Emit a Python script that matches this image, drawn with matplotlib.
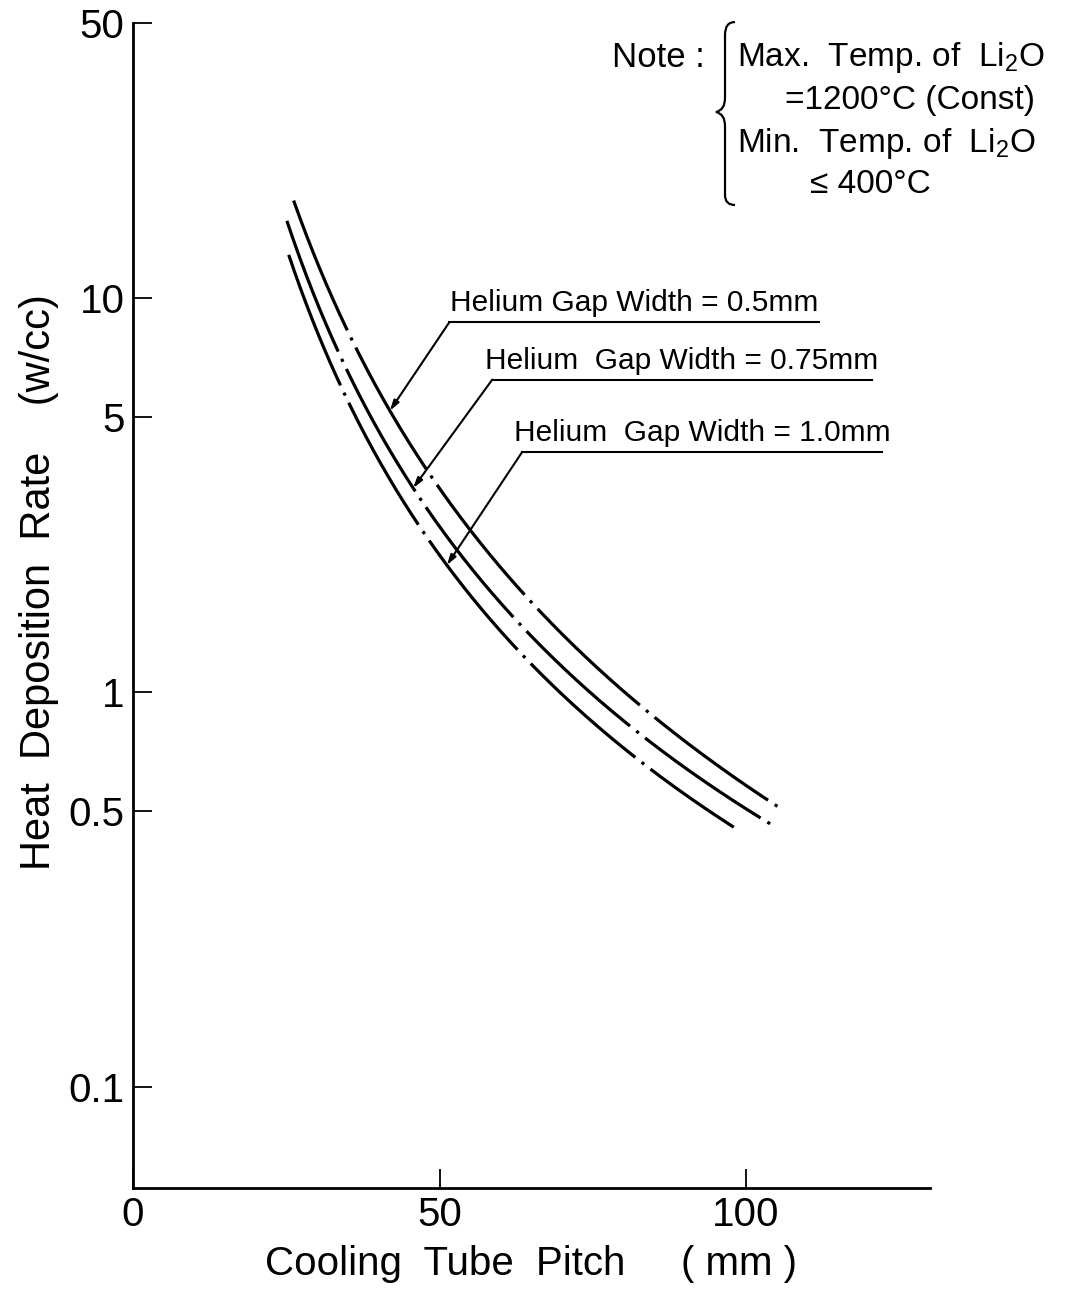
import numpy as np
import matplotlib
matplotlib.use("Agg")
import matplotlib.pyplot as plt
from matplotlib.path import Path
from matplotlib.patches import PathPatch

plt.rcParams['font.family'] = ['Liberation Sans', 'DejaVu Sans']
plt.rcParams['mathtext.fontset'] = 'custom'
plt.rcParams['mathtext.rm'] = 'Liberation Sans'
plt.rcParams['mathtext.it'] = 'Liberation Sans'

# pitch (mm) vs heat deposition rate (W/cc)
pitch_05 = [26.2, 29.3, 36.5, 44.6, 67.1, 76.1, 85.8, 92.3, 105.9]
rate_05 = [18.1, 12.9, 7.46, 4.33, 1.57, 1.15, 0.865, 0.71, 0.494]

pitch_075 = [25.1, 27.5, 32.9, 40.7, 61.4, 66.3, 76.5, 92.3, 104.1]
rate_075 = [15.5, 12.9, 7.46, 4.33, 1.57, 1.36, 0.97, 0.60, 0.458]

pitch_10 = [25.4, 27.2, 30.9, 38.1, 56.5, 66.3, 76.1, 92.3, 98.0]
rate_10 = [13.1, 10.9, 7.46, 4.33, 1.57, 1.20, 0.85, 0.51, 0.445]

labels = ["Helium Gap Width = 0.5mm",
          "Helium  Gap Width = 0.75mm",
          "Helium  Gap Width = 1.0mm"]

xticks = [0, 50, 100]
yticks = [0.1, 0.5, 1, 5, 10, 50]
yticklabels = ["0.1", "0.5", "1", "5", "10", "50"]


def smooth(px, py):
    # quadratic fit in log-log space, the read points are a bit noisy
    lx, ly = np.log10(px), np.log10(py)
    c = np.polyfit(lx, ly, 2)
    xs = np.linspace(px[0], px[-1], 300)
    ys = 10 ** np.polyval(c, np.log10(xs))
    return xs, ys, c


fig = plt.figure(figsize=(10.91, 13.05), dpi=100)
ax = fig.add_axes([0.1219, 0.0897, 0.7305, 0.8927])

dash = (0, (44, 2.5, 1, 2.5))
series = [(pitch_05, rate_05), (pitch_075, rate_075), (pitch_10, rate_10)]
fits = []
for px, py in series:
    xs, ys, c = smooth(px, py)
    fits.append(c)
    ax.plot(xs, ys, color="black", lw=2.3, linestyle=dash)

ax.set_yscale("log")
ax.set_xlim(0, 130)
ax.set_ylim(0.0553, 50)

ax.set_xticks(xticks)
ax.set_xticklabels([str(t) for t in xticks])
ax.set_yticks(yticks)
ax.set_yticklabels(yticklabels)
ax.yaxis.set_minor_locator(matplotlib.ticker.NullLocator())
ax.tick_params(direction="in", length=14, width=1.3, labelsize=29, pad=6)

for side in ["top", "right"]:
    ax.spines[side].set_visible(False)
for side in ["left", "bottom"]:
    ax.spines[side].set_linewidth(2.0)

ax.set_xlabel("Cooling  Tube  Pitch     ( mm )", fontsize=29, labelpad=8)
ax.set_ylabel("Heat  Deposition  Rate    (w/cc)", fontsize=30)
ax.yaxis.set_label_coords(-0.093, 0.52)

# leader lines to each curve
pointer_x = [41.9, 45.7, 51.2]
elbows = [(51.6, 8.7, 111.9), (58.6, 6.22, 120.5), (63.5, 4.08, 122.1)]
for c, lab, x0, (ex, ey, ux) in zip(fits, labels, pointer_x, elbows):
    y0 = 10 ** np.polyval(c, np.log10(x0))
    ax.annotate("", xy=(x0, y0), xytext=(ex, ey),
                arrowprops=dict(arrowstyle="-|>,head_length=0.6,head_width=0.18",
                                color="black", lw=1.5, shrinkA=0, shrinkB=0))
    ax.plot([ex, ux], [ey, ey], color="black", lw=1.5)
    ax.text((ex + ux) / 2, ey * 1.03, lab, ha="center", va="bottom", fontsize=21.5)

# note block
fig.text(0.561, 0.956, "Note :", fontsize=25, va="center", ha="left")
fig.text(0.6755, 0.956, "Max.  Temp. of  Li$_2$O", fontsize=24, va="center")
fig.text(0.7195, 0.923, "=1200°C (Const)", fontsize=24, va="center")
fig.text(0.6755, 0.890, "Min.  Temp. of  Li$_2$O", fontsize=24, va="center")
fig.text(0.742, 0.859, "≤ 400°C", fontsize=24, va="center")

# curly brace
W, H = 1091.0, 1305.0
def fp(x, y):
    return (x / W, 1 - y / H)
verts = [fp(735, 22), fp(725, 22), fp(725, 35), fp(725, 40),
         fp(725, 98), fp(725, 110), fp(716, 112),
         fp(725, 114), fp(725, 126), fp(725, 190),
         fp(725, 195), fp(725, 205), fp(735, 205)]
codes = [Path.MOVETO, Path.CURVE3, Path.CURVE3, Path.LINETO,
         Path.LINETO, Path.CURVE3, Path.CURVE3,
         Path.CURVE3, Path.CURVE3, Path.LINETO,
         Path.LINETO, Path.CURVE3, Path.CURVE3]
brace = PathPatch(Path(verts, codes), transform=fig.transFigure,
                  fill=False, lw=1.6, color="black")
fig.add_artist(brace)

fig.savefig("out.png", dpi=100)
